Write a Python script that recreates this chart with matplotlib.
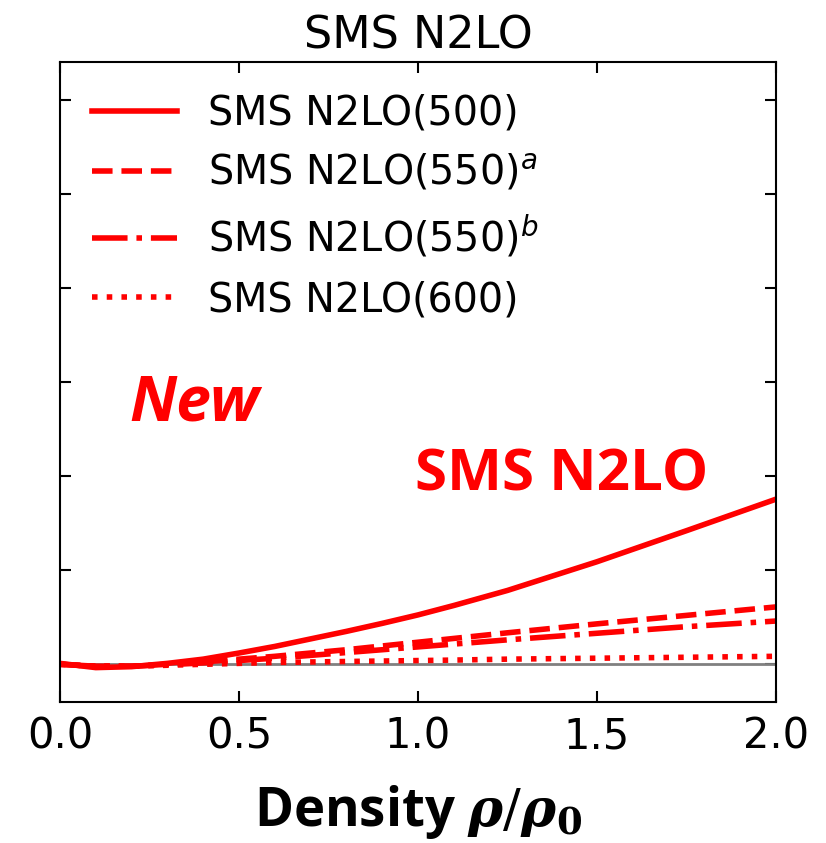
import numpy as np
import matplotlib.pyplot as plt

# density grid and curve values (y tick labels hidden)
rho = [0.0, 0.1, 0.2, 0.3, 0.4, 0.5, 0.6, 0.7, 0.8, 0.9, 1.0, 1.1, 1.25, 1.5, 1.75, 2.0]
n2lo_500 = [0.1, -0.35, -0.25, 0.1, 0.55, 1.2, 1.9, 2.7, 3.5, 4.35, 5.25, 6.25, 7.85, 10.9, 14.2, 17.55]
n2lo_550a = [0.0, -0.2, -0.2, 0.0, 0.25, 0.55, 0.85, 1.2, 1.55, 1.95, 2.35, 2.75, 3.35, 4.3, 5.2, 6.1]
n2lo_550b = [0.0, -0.2, -0.2, -0.05, 0.15, 0.4, 0.65, 0.95, 1.25, 1.55, 1.85, 2.15, 2.6, 3.3, 4.0, 4.6]
n2lo_600 = [0.0, -0.2, -0.2, -0.1, 0.0, 0.1, 0.2, 0.25, 0.3, 0.35, 0.4, 0.45, 0.55, 0.65, 0.75, 0.85]

labels = ['SMS N2LO(500)', 'SMS N2LO(550)$^a$', 'SMS N2LO(550)$^b$', 'SMS N2LO(600)']
styles = ['-', '--', '-.', ':']

fig, ax = plt.subplots(figsize=(8.26, 8.43), dpi=100)
fig.subplots_adjust(left=0.0726, right=0.9395, top=0.9265, bottom=0.1673)

ax.axhline(0, color='gray', lw=2)
for y, lab, ls in zip([n2lo_500, n2lo_550a, n2lo_550b, n2lo_600], labels, styles):
    ax.plot(rho, y, color='red', ls=ls, lw=4, label=lab)

ax.set_xlim(0, 2.0)
ax.set_ylim(-4, 64)
ax.set_xticks([0.0, 0.5, 1.0, 1.5, 2.0])
ax.set_yticks([0, 10, 20, 30, 40, 50, 60])
ax.tick_params(direction='in', top=True, right=True, length=8, width=1.5,
               labelsize=30, labelleft=False, pad=10)
for s in ax.spines.values():
    s.set_linewidth(1.5)

ax.set_title('SMS N2LO', fontsize=32, pad=10)
ax.set_xlabel(r'Density $\boldsymbol{\rho}/\boldsymbol{\rho}_\mathbf{0}$', fontsize=38,
              fontweight='bold', family='Open Sans', math_fontfamily='dejavuserif',
              labelpad=18)

ax.legend(loc='upper left', frameon=False, fontsize=28.5, handlelength=2.15,
          labelspacing=0.5, borderaxespad=0.4, handletextpad=0.8)

ax.text(0.097, 0.44, 'New', transform=ax.transAxes, fontsize=45, color='red',
        fontweight='bold', style='italic', family='Open Sans')
ax.text(0.496, 0.331, 'SMS N2LO', transform=ax.transAxes, fontsize=42, color='red',
        fontweight='bold', family='Open Sans')

fig.savefig('out.png', dpi=100)
